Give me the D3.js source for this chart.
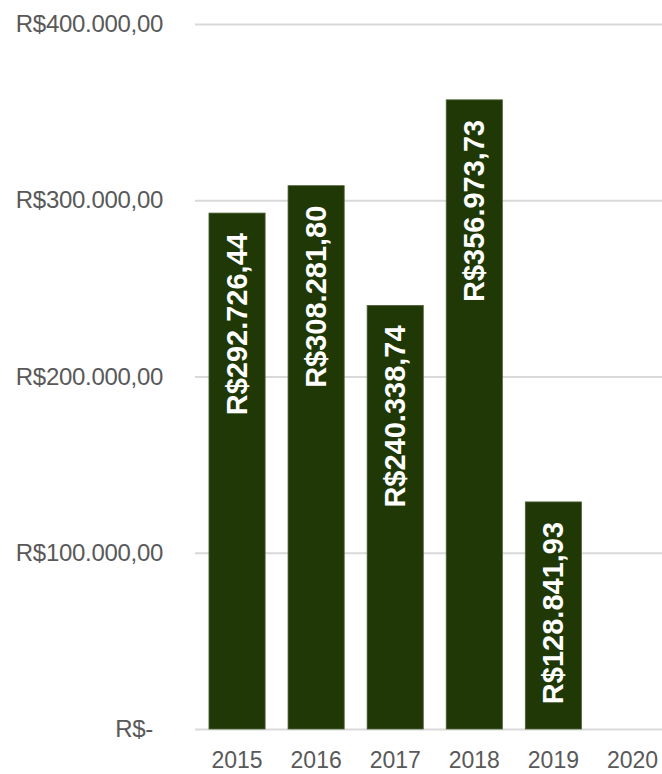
<!DOCTYPE html>
<html lang="pt-BR">
  <head>
    <meta charset="UTF-8" />
    <title>bar</title>
    <script src="https://cdn.jsdelivr.net/npm/d3@7"></script>
    <style>
      body { margin: 0; background: #fff; }
    </style>
  </head>
  <body>
    <div id="wrapper"></div>
    <script>
      const years = ["2015", "2016", "2017", "2018", "2019", "2020"];
      const values = [292726.44, 308281.8, 240338.74, 356973.73, 128841.93, null];
      const yTicks = [0, 100000, 200000, 300000, 400000];

      const dimensions = {
        width: 662,
        height: 774,
        margin: { top: 24, right: -10, bottom: 45, left: 197.5 },
      };

      const brl = d3.formatLocale({
        decimal: ",",
        thousands: ".",
        grouping: [3],
        currency: ["R$", ""],
      });
      const money = brl.format("$,.2f");

      const svg = d3
        .select("#wrapper")
        .append("svg")
        .attr("width", dimensions.width)
        .attr("height", dimensions.height);

      const xScale = d3
        .scaleBand()
        .domain(years)
        .range([dimensions.margin.left, dimensions.width - dimensions.margin.right])
        .paddingInner(0.29)
        .paddingOuter(0.145);

      const yScale = d3
        .scaleLinear()
        .domain([0, 400000])
        .range([dimensions.height - dimensions.margin.bottom, dimensions.margin.top]);

      // gridlines + y labels
      const yAxis = svg
        .append("g")
        .attr("transform", "translate(195,0)")
        .call(
          d3
            .axisLeft(yScale)
            .tickValues(yTicks)
            .tickSize(-(dimensions.width - 195))
            .tickPadding(32)
            .tickFormat((d) => (d === 0 ? "R$-" : money(d)))
        );
      yAxis.select(".domain").remove();
      yAxis.selectAll(".tick line").attr("stroke", "#d9d9d9").attr("stroke-width", 2);
      yAxis
        .selectAll(".tick text")
        .attr("fill", "#595959")
        .attr("font-family", "Liberation Sans, Arial, sans-serif")
        .attr("font-size", 24)
        .attr("letter-spacing", -0.3)
        .attr("dx", (d) => (d === 0 ? -10 : 0));

      const data = years.map((y, i) => ({ year: y, value: values[i] }));

      svg
        .append("g")
        .selectAll("rect")
        .data(data.filter((d) => d.value != null))
        .join("rect")
        .attr("x", (d) => xScale(d.year))
        .attr("width", xScale.bandwidth())
        .attr("y", (d) => yScale(d.value))
        .attr("height", (d) => yScale(0) - yScale(d.value))
        .attr("fill", "#1f3806")
        .attr("stroke", "#4e6338")
        .attr("stroke-width", 0.8);

      svg
        .append("g")
        .selectAll("text")
        .data(data.filter((d) => d.value != null))
        .join("text")
        .attr(
          "transform",
          (d) =>
            `translate(${xScale(d.year) + xScale.bandwidth() / 2},${yScale(d.value) + 20}) rotate(-90)`
        )
        .attr("text-anchor", "end")
        .attr("dominant-baseline", "central")
        .attr("fill", "#ffffff")
        .attr("font-family", "Liberation Sans, Arial, sans-serif")
        .attr("font-weight", "bold")
        .attr("font-size", 29)
        .text((d) => money(d.value));

      // x labels
      const xAxis = svg
        .append("g")
        .attr("transform", `translate(0,${yScale(0)})`)
        .call(d3.axisBottom(xScale).tickSize(0).tickPadding(23));
      xAxis.select(".domain").remove();
      xAxis
        .selectAll(".tick text")
        .attr("fill", "#595959")
        .attr("font-family", "Liberation Sans, Arial, sans-serif")
        .attr("font-size", 23);
    </script>
  </body>
</html>
